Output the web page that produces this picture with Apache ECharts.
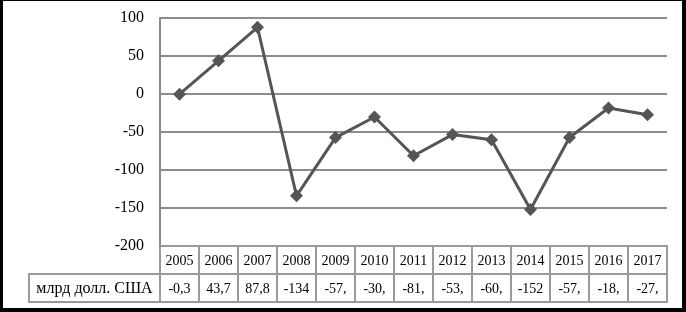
<!DOCTYPE html>
<html>
<head>
<meta charset="utf-8">
<script src="https://cdn.jsdelivr.net/npm/echarts@6/dist/echarts.min.js"></script>
<style>
  html, body { margin: 0; padding: 0; background: #fff; }
  #chart { width: 686px; height: 312px; }
</style>
</head>
<body>
<div id="chart"></div>
<script>
// данные графика
var years = ['2005', '2006', '2007', '2008', '2009', '2010', '2011', '2012', '2013', '2014', '2015', '2016', '2017'];
var values = [-0.3, 43.7, 87.8, -134, -57.4, -30.2, -81.3, -53.4, -60.2, -152, -57.3, -18.4, -27.3];
var tableText = ['-0,3', '43,7', '87,8', '-134', '-57,', '-30,', '-81,', '-53,', '-60,', '-152', '-57,', '-18,', '-27,'];
var rowName = 'млрд долл. США';
var yTicks = [-200, -150, -100, -50, 0, 50, 100];

var FONT = '"Liberation Serif", "DejaVu Serif", serif';
var chart = echarts.init(document.getElementById('chart'));

chart.setOption({
  animation: false,
  grid: { left: 160, right: 19, top: 18, bottom: 66 },
  xAxis: {
    type: 'category',
    data: years,
    boundaryGap: true,
    axisLine: { show: false },
    axisTick: { show: false },
    axisLabel: { show: false },
    splitLine: { show: false }
  },
  yAxis: {
    type: 'value',
    min: yTicks[0],
    max: yTicks[yTicks.length - 1],
    interval: 50,
    axisLine: { show: true, lineStyle: { color: '#8c8c8c', width: 2 } },
    axisTick: { show: false },
    axisLabel: { margin: 16, color: '#000', fontSize: 16, fontFamily: FONT },
    splitLine: { show: true, lineStyle: { color: '#8c8c8c', width: 2 } }
  },
  series: [{
    type: 'line',
    data: values,
    symbol: 'diamond',
    symbolSize: 13,
    lineStyle: { color: '#555', width: 3 },
    itemStyle: { color: '#555' },
    z: 5
  }]
});

// таблица под графиком
function drawTable() {
  var els = [];
  var x0 = chart.convertToPixel({ xAxisIndex: 0 }, years[0]);
  var x1 = chart.convertToPixel({ xAxisIndex: 0 }, years[1]);
  var cw = x1 - x0;
  var left = x0 - cw / 2;
  var right = left + cw * years.length;
  var top = chart.convertToPixel({ yAxisIndex: 0 }, yTicks[0]);
  var rh = 28;
  var labelLeft = 29;
  var border = { stroke: '#9a9a9a', lineWidth: 2 };
  // рамки
  els.push({ type: 'rect', shape: { x: left, y: top, width: right - left, height: rh }, style: Object.assign({ fill: 'none' }, border) });
  els.push({ type: 'rect', shape: { x: labelLeft, y: top + rh, width: right - labelLeft, height: rh }, style: Object.assign({ fill: 'none' }, border) });
  els.push({ type: 'line', shape: { x1: left, y1: top + rh, x2: left, y2: top + rh * 2 }, style: border });
  for (var i = 0; i < years.length; i++) {
    var cx = chart.convertToPixel({ xAxisIndex: 0 }, years[i]);
    if (i > 0) {
      els.push({ type: 'line', shape: { x1: cx - cw / 2, y1: top, x2: cx - cw / 2, y2: top + rh * 2 }, style: border });
    }
    els.push({ type: 'text', x: cx, y: top + rh / 2 + 1, style: { text: years[i], fill: '#000', font: '14px ' + FONT, align: 'center', verticalAlign: 'middle' } });
    els.push({ type: 'text', x: cx, y: top + rh * 1.5 + 1, style: { text: tableText[i], fill: '#000', font: '14px ' + FONT, align: 'center', verticalAlign: 'middle' } });
  }
  els.push({ type: 'text', x: (labelLeft + left) / 2, y: top + rh * 1.5 + 1, style: { text: rowName, fill: '#000', font: '16px ' + FONT, align: 'center', verticalAlign: 'middle' } });
  // чёрная рамка вокруг рисунка
  els.push({ type: 'rect', shape: { x: 0, y: 0, width: 3, height: 312 }, style: { fill: '#000' } });
  els.push({ type: 'rect', shape: { x: 0, y: 0, width: 686, height: 1 }, style: { fill: '#000' } });
  els.push({ type: 'rect', shape: { x: 682, y: 0, width: 4, height: 312 }, style: { fill: '#000' } });
  els.push({ type: 'rect', shape: { x: 0, y: 308, width: 686, height: 4 }, style: { fill: '#000' } });
  chart.setOption({ graphic: els });
}
drawTable();
</script>
</body>
</html>
